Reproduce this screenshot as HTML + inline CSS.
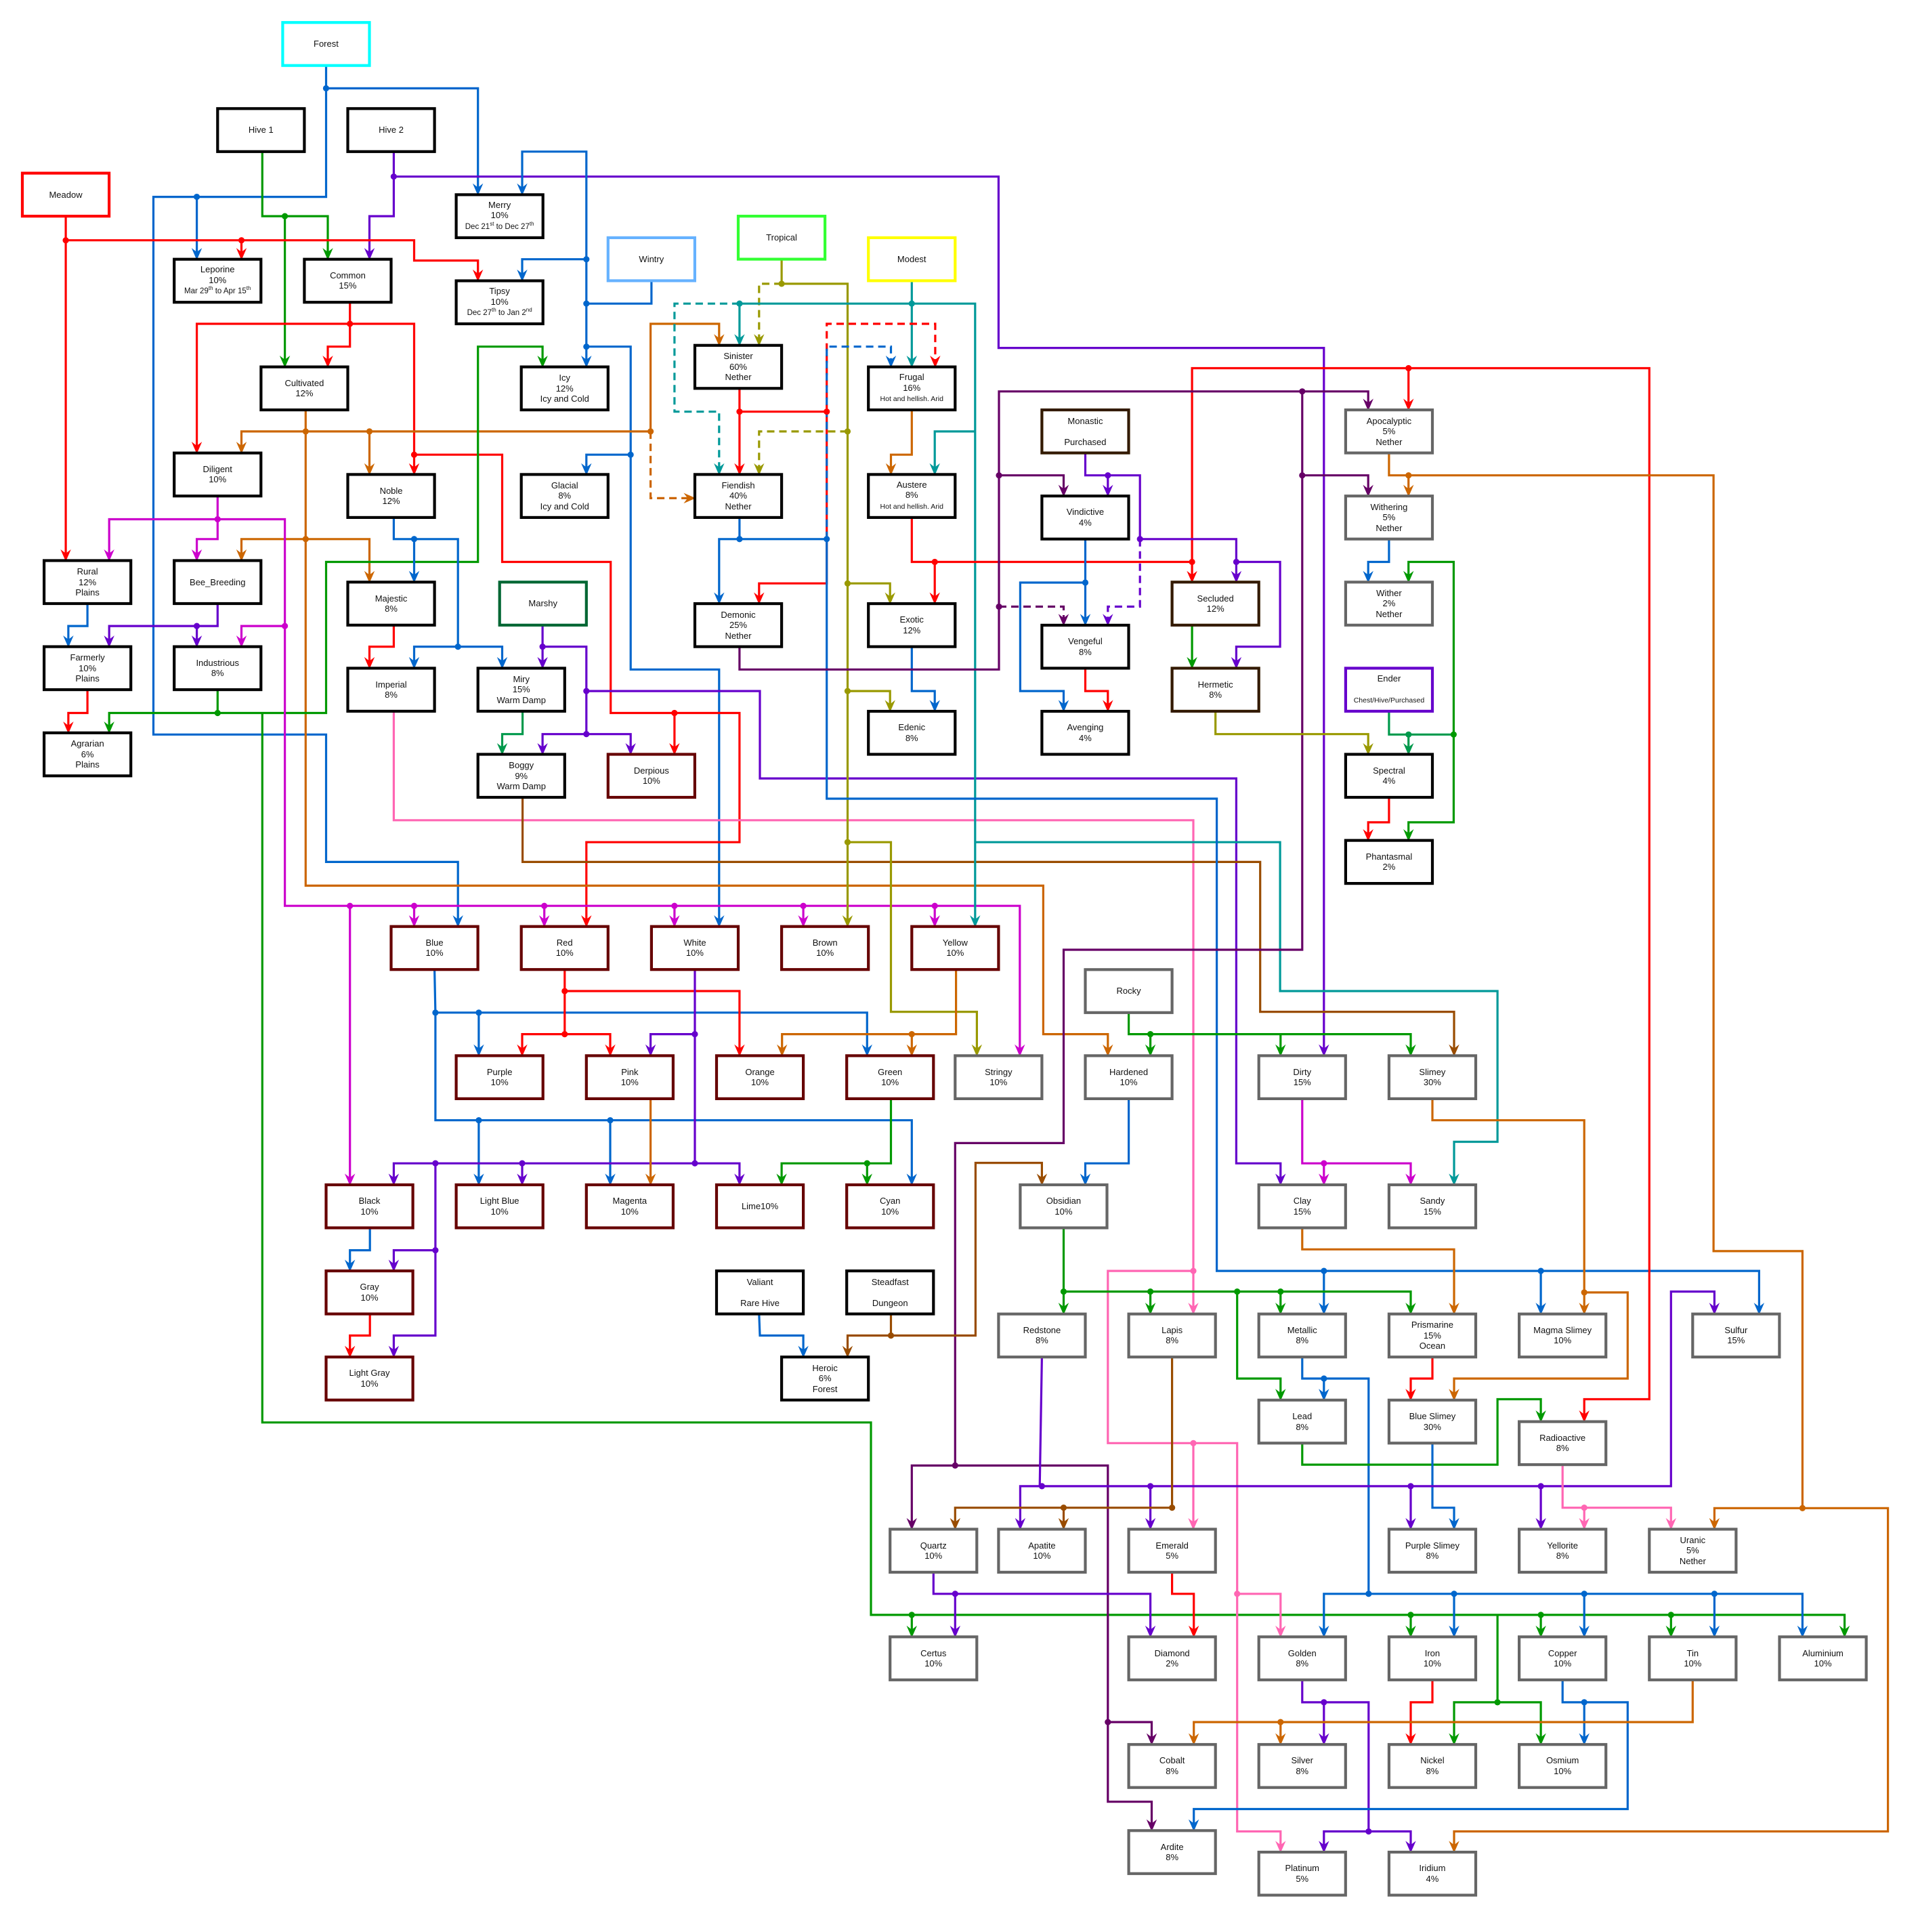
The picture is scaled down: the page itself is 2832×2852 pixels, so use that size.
<!DOCTYPE html>
<html><head><meta charset="utf-8">
<style>
html,body{margin:0;padding:0;background:#fff;}
#wrap{position:relative;width:2832px;height:2852px;overflow:hidden;background:#fff;}
svg{position:absolute;left:0;top:0;}
.lb{position:absolute;display:flex;align-items:center;justify-content:center;text-align:center;font-family:"Liberation Sans",Arial,sans-serif;font-size:13px;line-height:15.5px;color:#111;}
.lb small{font-size:11.5px;}
.lb s{text-decoration:none;font-size:10.5px;}
.lb sup{font-size:8px;line-height:0;vertical-align:5px;}
</style></head><body>
<div id="wrap">
<svg id="sv" width="2832" height="2852" viewBox="0 0 2832 2852" xmlns="http://www.w3.org/2000/svg"></svg>
<div id="lbls"></div>
</div>
<script>
var U=64.06,V=63.55,OX=1,OY=1.4;
function X(k){return OX+U*k;} function Y(k){return OY+V*k;}
var B='#0066cc',R='#ff0000',G='#009900',P='#6600cc',O='#cc6600',M='#cc00cc',T='#009999',OL='#999900',DP='#660066',PK='#ff66b3',BR='#994c00',DG='#00994c';
var K='#000000',DR='#660000',GR='#666666',DB='#331a00';
var out=[],dots=[];
function e(c,pts,opt){opt=opt||'';var arrow=opt.indexOf('n')<0,dash=opt.indexOf('d')>=0;
 var p=pts.map(function(q){return [X(q[0]),Y(q[1])];});
 var s='';
 if(arrow){var a=p[p.length-1],b=p[p.length-2];var dx=a[0]-b[0],dy=a[1]-b[1],L=Math.hypot(dx,dy);var ux=dx/L,uy=dy/L;
  var AL=15,AW=6.5,N=10;
  var nx=a[0]-ux*N,ny=a[1]-uy*N;
  var bx=a[0]-ux*AL,by=a[1]-uy*AL;
  s+='<polygon points="'+a[0]+','+a[1]+' '+(bx-uy*AW)+','+(by+ux*AW)+' '+nx+','+ny+' '+(bx+uy*AW)+','+(by-ux*AW)+'" fill="'+c+'" stroke="'+c+'" stroke-width="1" stroke-linejoin="miter"/>';
  p[p.length-1]=[nx,ny];}
 out.push('<polyline points="'+p.map(function(q){return q[0].toFixed(1)+','+q[1].toFixed(1);}).join(' ')+'" fill="none" stroke="'+c+'" stroke-width="3.2" stroke-linejoin="miter"'+(dash?' stroke-dasharray="11 7"':'')+'/>'+s);
}
function d(c,list){list.forEach(function(q){dots.push('<circle cx="'+X(q[0])+'" cy="'+Y(q[1])+'" r="4.6" fill="'+c+'"/>');});}
function arr(c,xs,y1,y2){xs.forEach(function(x){e(c,[[x,y1],[x,y2]]);});}

// Forest
e(B,[[7.5,1.5],[7.5,2.03],[11,2.03],[11,4.5]]);
e(B,[[7.5,2.03],[7.5,4.55],[3.52,4.55],[3.52,17.04],[7.5,17.04],[7.5,20.0],[10.54,20.0],[10.54,21.5]]);
e(B,[[4.52,4.55],[4.52,6]]);d(B,[[7.5,2.03],[4.52,4.55]]);
// Hive1
e(G,[[6.03,3.5],[6.03,5.0],[7.54,5.0],[7.54,6]]);e(G,[[6.55,5.0],[6.55,8.5]]);d(G,[[6.55,5.0]]);
// Hive2
e(P,[[9.06,3.5],[9.06,5.0],[8.5,5.0],[8.5,6]]);
e(P,[[9.06,4.08],[23.0,4.08],[23.0,8.06],[30.5,8.06],[30.5,24.5]]);d(P,[[9.06,4.08]]);
// Wintry / blue
e(B,[[15,6.5],[15,7.03],[13.5,7.03]],'n');
e(B,[[13.5,7.03],[13.5,3.5],[12.02,3.5],[12.02,4.5]]);
e(B,[[13.5,7.03],[13.5,8.5]]);
e(B,[[13.5,6.0],[12.02,6.0],[12.02,6.5]]);
e(B,[[13.5,8.03],[14.52,8.03],[14.52,15.53],[16.56,15.53],[16.56,21.5]]);
e(B,[[14.52,10.54],[13.5,10.54],[13.5,11]]);
d(B,[[13.5,6.0],[13.5,7.03],[13.5,8.03],[14.52,10.54]]);
// Meadow
e(R,[[1.5,5],[1.5,13]]);
e(R,[[1.5,5.56],[9.53,5.56],[9.53,6.03],[11.0,6.03],[11.0,6.5]]);
e(R,[[5.55,5.56],[5.55,6]]);d(R,[[1.5,5.56],[5.55,5.56]]);
// Common red
e(R,[[8.05,7],[8.05,7.5],[4.52,7.5],[4.52,10.5]]);
e(R,[[8.05,7.5],[9.53,7.5],[9.53,11]]);
e(R,[[8.05,7.5],[8.05,8.03],[7.54,8.03],[7.54,8.5]]);
e(R,[[9.53,10.54],[11.56,10.54],[11.56,13.03],[14.06,13.03],[14.06,16.54],[17.03,16.54],[17.03,19.54],[13.5,19.54],[13.5,21.5]]);
e(R,[[15.53,16.54],[15.53,17.5]]);d(R,[[8.05,7.5],[9.53,10.54],[15.53,16.54]]);
// Cultivated orange
e(O,[[7.03,9.5],[7.03,10.0],[5.55,10.0],[5.55,10.5]]);
e(O,[[7.03,10.0],[14.98,10.0],[14.98,7.5],[16.56,7.5],[16.56,8]]);
e(O,[[8.5,10.0],[8.5,11]]);
e(O,[[14.98,10.0],[14.98,11.55],[16,11.55]],'d');
e(O,[[7.03,10.0],[7.03,12.5],[5.55,12.5],[5.55,13]]);
e(O,[[7.03,12.5],[8.5,12.5],[8.5,13.5]]);
e(O,[[7.03,12.5],[7.03,20.55],[24.03,20.55],[24.03,24.0],[25.52,24.0],[25.52,24.5]]);
d(O,[[7.03,10.0],[8.5,10.0],[14.98,10.0],[7.03,12.5]]);
// Green network
e(G,[[5.0,16],[5.0,16.54],[2.5,16.54],[2.5,17]]);
e(G,[[5.0,16.54],[7.5,16.54],[7.5,13.03],[11.0,13.03],[11.0,8.03],[12.49,8.03],[12.49,8.5]]);
e(G,[[6.03,16.54],[6.03,33.02],[20.06,33.02],[20.06,37.49],[42.5,37.49],[42.5,38]]);
arr(G,[21.0,32.5,35.5,38.5],37.49,38);
e(G,[[34.5,37.49],[34.5,39.52],[33.5,39.52],[33.5,40.5]]);e(G,[[34.5,39.52],[35.5,39.52],[35.5,40.5]]);
d(G,[[5.0,16.54],[21,37.49],[32.5,37.49],[35.5,37.49],[38.5,37.49],[34.5,39.52]]);
// Diligent magenta
e(M,[[5.0,11.5],[5.0,12.04],[2.5,12.04],[2.5,13]]);
e(M,[[5.0,12.04],[5.0,12.5],[4.52,12.5],[4.52,13]]);
e(M,[[5.0,12.04],[6.55,12.04],[6.55,21.02],[23.49,21.02],[23.49,24.5]]);
e(M,[[6.55,14.52],[5.55,14.52],[5.55,15]]);
e(M,[[8.05,21.02],[8.05,27.5]]);
arr(M,[9.53,12.53,15.53,18.5,21.53],21.02,21.5);
d(M,[[5,12.04],[6.55,14.52],[8.05,21.02],[9.53,21.02],[12.53,21.02],[15.53,21.02],[18.5,21.02],[21.53,21.02]]);
// Bee purple, Rural, Farmerly
e(P,[[5.0,14],[5.0,14.52],[2.5,14.52],[2.5,15]]);e(P,[[4.52,14.52],[4.52,15]]);d(P,[[4.52,14.52]]);
e(B,[[2.0,14],[2.0,14.52],[1.56,14.52],[1.56,15]]);
e(R,[[2.0,16],[2.0,16.54],[1.56,16.54],[1.56,17]]);
// Noble
e(B,[[9.06,12],[9.06,12.5],[10.54,12.5],[10.54,15.0],[11.56,15.0],[11.56,15.5]]);
e(B,[[9.53,12.5],[9.53,13.5]]);e(B,[[10.54,15.0],[9.53,15.0],[9.53,15.5]]);d(B,[[9.53,12.5],[10.54,15.0]]);
e(R,[[9.06,14.5],[9.06,15.0],[8.5,15.0],[8.5,15.5]]);
// Marshy
e(P,[[12.49,14.5],[12.49,15.5]]);
e(P,[[12.49,15.0],[13.5,15.0],[13.5,17.03],[12.49,17.03],[12.49,17.5]]);
e(P,[[13.5,17.03],[14.52,17.03],[14.52,17.5]]);
e(P,[[13.5,16.03],[17.5,16.03],[17.5,18.06],[28.48,18.06],[28.48,27.0],[29.5,27.0],[29.5,27.5]]);
d(P,[[12.49,15.0],[13.5,17.03],[13.5,16.03]]);
e(DG,[[12.03,16.5],[12.03,17.03],[11.56,17.03],[11.56,17.5]]);
// Imperial pink
e(PK,[[9.06,16.5],[9.06,19.03],[27.49,19.03],[27.49,30.5]]);
e(PK,[[27.49,29.5],[25.52,29.5],[25.52,33.5],[28.5,33.5],[28.5,42.52],[29.5,42.52],[29.5,43]]);
e(PK,[[27.49,33.5],[27.49,35.5]]);e(PK,[[28.5,37.0],[29.5,37.0],[29.5,38]]);
d(PK,[[27.49,29.5],[27.49,33.5],[28.5,37.0]]);
// Boggy
e(BR,[[12.03,18.5],[12.03,20.0],[29.03,20.0],[29.03,23.48],[33.5,23.48],[33.5,24.5]]);
// Tropical
e(OL,[[18,6],[18,6.57],[19.52,6.57],[19.52,21.5]]);
e(OL,[[18,6.57],[17.48,6.57],[17.48,8]],'d');
e(OL,[[19.52,10.0],[17.48,10.0],[17.48,11]],'d');
e(OL,[[19.52,13.53],[20.5,13.53],[20.5,14]]);
e(OL,[[19.52,16.03],[20.5,16.03],[20.5,16.5]]);
e(OL,[[19.52,19.54],[20.52,19.54],[20.52,23.48],[22.5,23.48],[22.5,24.5]]);
d(OL,[[18,6.57],[19.52,10],[19.52,13.53],[19.52,16.03],[19.52,19.54]]);
// Modest teal
e(T,[[21,6.5],[21,8.5]]);
e(T,[[21,7.03],[17.03,7.03],[17.03,8]]);
e(T,[[17.03,7.03],[15.53,7.03],[15.53,9.54],[16.56,9.54],[16.56,11]],'d');
e(T,[[21,7.03],[22.46,7.03],[22.46,21.5]]);
e(T,[[22.46,10.0],[21.53,10.0],[21.53,11]]);
e(T,[[22.46,19.54],[29.49,19.54],[29.49,23.0],[34.5,23.0],[34.5,26.5],[33.5,26.5],[33.5,27.5]]);
d(T,[[21,7.03],[17.03,7.03]]);
// Sinister red
e(R,[[17.03,9],[17.03,11]]);
e(R,[[17.03,9.54],[19.04,9.54],[19.04,13.53],[17.48,13.53],[17.48,14]]);
e(R,[[19.04,9.54],[19.04,7.5],[21.54,7.5],[21.54,8.5]],'d');
d(R,[[17.03,9.54],[19.04,9.54]]);
// Fiendish blue
e(B,[[17.03,12],[17.03,12.5],[16.56,12.5],[16.56,14]]);
e(B,[[17.03,12.5],[19.04,12.5],[19.04,18.53],[28.03,18.53],[28.03,29.5],[40.53,29.5],[40.53,30.5]]);
e(B,[[19.04,12.5],[19.04,8.03],[20.52,8.03],[20.52,8.5]],'d');
arr(B,[30.5,35.5],29.5,30.5);
d(B,[[17.03,12.5],[19.04,12.5],[30.5,29.5],[35.5,29.5]]);
// Frugal, Austere
e(O,[[21,9.5],[21,10.54],[20.52,10.54],[20.52,11]]);
e(R,[[21,12],[21,13.03],[27.46,13.03],[27.46,13.5]]);
e(R,[[21.53,13.03],[21.53,14]]);
e(R,[[27.46,13.03],[27.46,8.53],[38.0,8.53],[38.0,32.48],[36.5,32.48],[36.5,33]]);
e(R,[[32.45,8.53],[32.45,9.5]]);
d(R,[[21.53,13.03],[27.46,13.03],[32.45,8.53]]);
e(B,[[21,15],[21,16.03],[21.53,16.03],[21.53,16.5]]);
// Demonic dark purple
e(DP,[[17.03,15],[17.03,15.53],[23.01,15.53],[23.01,9.07],[31.52,9.07],[31.52,9.5]]);
e(DP,[[23.01,11.02],[24.5,11.02],[24.5,11.5]]);
e(DP,[[23.01,14.07],[24.5,14.07],[24.5,14.5]],'d');
e(DP,[[30.0,9.07],[30.0,22.04],[24.5,22.04],[24.5,26.53],[22.0,26.53],[22.0,34.02],[21.0,34.02],[21.0,35.5]]);
e(DP,[[30.0,11.02],[31.52,11.02],[31.52,11.5]]);
e(DP,[[22.0,34.02],[25.52,34.02],[25.52,41.83],[26.53,41.83],[26.53,42.5]]);
e(DP,[[25.52,39.98],[26.53,39.98],[26.53,40.5]]);
d(DP,[[23.01,11.02],[23.01,14.07],[30.0,9.07],[30.0,11.02],[22.0,34.02],[25.52,39.98]]);
// Monastic
e(P,[[25,10.5],[25,11.02],[25.52,11.02],[25.52,11.5]]);
e(P,[[25.52,11.02],[26.26,11.02],[26.26,12.5],[28.48,12.5],[28.48,13.5]]);
e(P,[[26.26,12.5],[26.26,14.07],[25.52,14.07],[25.52,14.5]],'d');
e(P,[[28.48,13.03],[29.49,13.03],[29.49,15.0],[28.48,15.0],[28.48,15.5]]);
d(P,[[25.52,11.02],[26.26,12.5],[28.48,13.03]]);
// Vindictive, Vengeful, Secluded, Hermetic
e(B,[[25,12.5],[25,14.5]]);
e(B,[[25,13.51],[23.5,13.51],[23.5,16.03],[24.5,16.03],[24.5,16.5]]);d(B,[[25,13.51]]);
e(R,[[25,15.5],[25,16.03],[25.52,16.03],[25.52,16.5]]);
e(G,[[27.46,14.5],[27.46,15.5]]);
e(OL,[[28,16.5],[28,17.03],[31.52,17.03],[31.52,17.5]]);
// Apocalyptic
e(O,[[32,10.5],[32,11.02],[39.48,11.02],[39.48,29.04],[41.53,29.04],[41.53,35.01],[43.5,35.01],[43.5,42.52],[33.5,42.52],[33.5,43]]);
e(O,[[32.45,11.02],[32.45,11.5]]);
e(O,[[41.53,35.01],[39.5,35.01],[39.5,35.5]]);
d(O,[[32.45,11.02],[41.53,35.01]]);
e(B,[[32,12.5],[32,13.03],[31.52,13.03],[31.52,13.5]]);
e(G,[[33.49,17.04],[33.49,13.03],[32.45,13.03],[32.45,13.5]]);
e(G,[[33.49,17.04],[33.49,19.08],[32.45,19.08],[32.45,19.5]]);d(G,[[33.49,17.04]]);
e(DG,[[32,16.5],[32,17.04],[33.49,17.04]],'n');e(DG,[[32.45,17.04],[32.45,17.5]]);d(DG,[[32.45,17.04]]);
e(R,[[32,18.5],[32,19.08],[31.52,19.08],[31.52,19.5]]);
// Lower left
e(B,[[10.0,22.5],[10.02,23.5],[19.97,23.5],[19.97,24.5]]);
e(B,[[11.02,23.5],[11.02,24.5]]);
e(B,[[10.02,23.5],[10.02,26.0],[21.0,26.0],[21.0,27.5]]);
arr(B,[11.02,14.05],26.0,27.5);
d(B,[[10.02,23.5],[11.02,23.5],[11.02,26],[14.05,26]]);
e(R,[[13,22.5],[13,23.0],[17.03,23.0],[17.03,24.5]]);
e(R,[[13,23.0],[13,24.0],[12.02,24.0],[12.02,24.5]]);
e(R,[[13,24.0],[14.05,24.0],[14.05,24.5]]);d(R,[[13,23],[13,24]]);
e(P,[[16,22.5],[16,24.0],[14.98,24.0],[14.98,24.5]]);
e(P,[[16,24.0],[16,27.0],[17.03,27.0],[17.03,27.5]]);
e(P,[[16,27.0],[9.06,27.0],[9.06,27.5]]);
e(P,[[12.02,27.0],[12.02,27.5]]);
e(P,[[10.02,27.0],[10.02,29.02],[9.06,29.02],[9.06,29.5]]);
e(P,[[10.02,29.02],[10.02,31.0],[9.06,31.0],[9.06,31.5]]);
d(P,[[16,24],[16,27],[10.02,27],[12.02,27],[10.02,29.02]]);
e(O,[[14.98,25.5],[14.98,27.5]]);
e(O,[[22.02,22.5],[22.02,24.0],[18.01,24.0],[18.01,24.5]]);e(O,[[21.0,24.0],[21.0,24.5]]);d(O,[[21,24]]);
e(G,[[20.52,25.5],[20.52,27.0],[18.0,27.0],[18.0,27.5]]);e(G,[[19.97,27.0],[19.97,27.5]]);d(G,[[19.97,27]]);
e(B,[[8.51,28.5],[8.51,29.02],[8.05,29.02],[8.05,29.5]]);
e(R,[[8.51,30.5],[8.51,31.0],[8.05,31.0],[8.05,31.5]]);
e(B,[[17.48,30.5],[17.5,31.0],[18.5,31.0],[18.5,31.5]]);
e(BR,[[20.52,30.5],[20.52,31.0],[19.52,31.0],[19.52,31.5]]);
e(BR,[[20.52,31.0],[22.47,31.0],[22.47,26.99],[24.0,26.99],[24.0,27.5]]);d(BR,[[20.52,31]]);
// Lower right
e(G,[[26,23.5],[26,24.0],[32.5,24.0],[32.5,24.5]]);arr(G,[26.5,29.5],24.0,24.5);d(G,[[26.5,24]]);
e(B,[[26,25.5],[26,27.0],[25.0,27.0],[25.0,27.5]]);
e(M,[[30,25.5],[30,27.0],[32.5,27.0],[32.5,27.5]]);e(M,[[30.5,27],[30.5,27.5]]);d(M,[[30.5,27]]);
e(O,[[33,25.5],[33,26.0],[36.5,26.0],[36.5,30.5]]);
e(O,[[36.5,30.0],[37.5,30.0],[37.5,32.0],[33.5,32.0],[33.5,32.5]]);d(O,[[36.5,30]]);
e(O,[[30,28.5],[30,29.0],[33.5,29.0],[33.5,30.5]]);
e(G,[[24.5,28.5],[24.5,30.5]]);
e(G,[[24.5,29.98],[32.5,29.98],[32.5,30.5]]);
arr(G,[26.5,29.5],29.98,30.5);
e(G,[[28.5,29.98],[28.5,32.0],[29.5,32.0],[29.5,32.5]]);
d(G,[[24.5,29.98],[26.5,29.98],[28.5,29.98],[29.5,29.98]]);
e(B,[[30,31.5],[30,32.0],[31.53,32.0],[31.53,37.0],[30.5,37.0],[30.5,38]]);
e(B,[[30.5,32.0],[30.5,32.5]]);
e(B,[[31.53,37.0],[41.53,37.0],[41.53,38]]);
arr(B,[33.5,36.5,39.5],37.0,38);
d(B,[[30.5,32],[31.53,37],[33.5,37],[36.5,37],[39.5,37]]);
e(R,[[33,31.5],[33,32.0],[32.5,32.0],[32.5,32.5]]);
e(G,[[30,33.5],[30,34.0],[34.5,34.0],[34.5,32.48],[35.5,32.48],[35.5,33]]);
e(B,[[33,33.5],[33,35.0],[33.5,35.0],[33.5,35.5]]);
e(P,[[24.0,31.5],[23.95,34.5]],'n');
e(P,[[24,34.5],[23.5,34.5],[23.5,35.5]]);
e(P,[[24,34.5],[38.5,34.5],[38.5,29.98],[39.5,29.98],[39.5,30.5]]);
arr(P,[26.5,32.5,35.5],34.5,35.5);
d(P,[[24,34.5],[26.5,34.5],[32.5,34.5],[35.5,34.5]]);
e(BR,[[27,31.5],[27,35.0],[22.0,35.0],[22.0,35.5]]);e(BR,[[24.5,35.0],[24.5,35.5]]);d(BR,[[27,35],[24.5,35]]);
e(PK,[[36,34],[36,35.0],[38.5,35.0],[38.5,35.5]]);e(PK,[[36.5,35],[36.5,35.5]]);d(PK,[[36.5,35]]);
e(P,[[21.5,36.5],[21.5,37.0],[26.5,37.0],[26.5,38]]);e(P,[[22,37],[22,38]]);d(P,[[22,37]]);
e(R,[[27,36.5],[27,37.0],[27.5,37.0],[27.5,38]]);
e(P,[[30,39],[30,39.52],[31.53,39.52],[31.53,42.52],[32.5,42.52],[32.5,43]]);
e(P,[[30.5,39.52],[30.5,40.5]]);e(P,[[31.53,42.52],[30.5,42.52],[30.5,43]]);d(P,[[30.5,39.52],[31.53,42.52]]);
e(R,[[33,39],[33,39.52],[32.5,39.52],[32.5,40.5]]);
e(B,[[36,39],[36,39.52],[37.5,39.52],[37.5,42.0],[27.5,42.0],[27.5,42.5]]);e(B,[[36.5,39.52],[36.5,40.5]]);d(B,[[36.5,39.52]]);
e(O,[[39,39],[39,39.98],[27.5,39.98],[27.5,40.5]]);e(O,[[29.5,39.98],[29.5,40.5]]);d(O,[[29.5,39.98]]);

var nodes=[
['Forest',6.5,0.5,'#00ffff'],['Hive 1',5,2.5,K],['Hive 2',8,2.5,K],['Meadow',0.5,4,'#ff0000'],
['Merry<br>10%<br><small>Dec 21<sup>st</sup> to Dec 27<sup>th</sup></small>',10.5,4.5,K],
['Leporine<br>10%<br><small>Mar 29<sup>th</sup> to Apr 15<sup>th</sup></small>',4,6,K],
['Common<br>15%',7,6,K],
['Tipsy<br>10%<br><small>Dec 27<sup>th</sup> to Jan 2<sup>nd</sup></small>',10.5,6.5,K],
['Wintry',14,5.5,'#66b2ff'],['Tropical',17,5,'#33ff33'],['Modest',20,5.5,'#ffff00'],
['Sinister<br>60%<br>Nether',16,8,K],['Frugal<br>16%<br><s>Hot and hellish. Arid</s>',20,8.5,K],
['Cultivated<br>12%',6,8.5,K],['Icy<br>12%<br>Icy and Cold',12,8.5,K],
['Monastic<br><br>Purchased',24,9.5,DB],['Apocalyptic<br>5%<br>Nether',31,9.5,GR],
['Diligent<br>10%',4,10.5,K],['Noble<br>12%',8,11,K],['Glacial<br>8%<br>Icy and Cold',12,11,K],
['Fiendish<br>40%<br>Nether',16,11,K],['Austere<br>8%<br><s>Hot and hellish. Arid</s>',20,11,K],
['Vindictive<br>4%',24,11.5,K],['Withering<br>5%<br>Nether',31,11.5,GR],
['Rural<br>12%<br>Plains',1,13,K],['Bee_Breeding',4,13,K],['Majestic<br>8%',8,13.5,K],['Marshy',11.5,13.5,'#006633'],
['Secluded<br>12%',27,13.5,DB],['Wither<br>2%<br>Nether',31,13.5,GR],
['Demonic<br>25%<br>Nether',16,14,K],['Exotic<br>12%',20,14,K],['Vengeful<br>8%',24,14.5,K],
['Farmerly<br>10%<br>Plains',1,15,K],['Industrious<br>8%',4,15,K],['Imperial<br>8%',8,15.5,K],
['Miry<br>15%<br>Warm Damp',11,15.5,K],['Hermetic<br>8%',27,15.5,DB],
['Ender<br><br><s>Chest/Hive/Purchased</s>',31,15.5,'#6600cc'],
['Edenic<br>8%',20,16.5,K],['Avenging<br>4%',24,16.5,K],['Agrarian<br>6%<br>Plains',1,17,K],
['Boggy<br>9%<br>Warm Damp',11,17.5,K],['Derpious<br>10%',14,17.5,DR],['Spectral<br>4%',31,17.5,K],['Phantasmal<br>2%',31,19.5,K],
['Blue<br>10%',9,21.5,DR],['Red<br>10%',12,21.5,DR],['White<br>10%',15,21.5,DR],['Brown<br>10%',18,21.5,DR],['Yellow<br>10%',21,21.5,DR],
['Rocky',25,22.5,GR],
['Purple<br>10%',10.5,24.5,DR],['Pink<br>10%',13.5,24.5,DR],['Orange<br>10%',16.5,24.5,DR],['Green<br>10%',19.5,24.5,DR],
['Stringy<br>10%',22,24.5,GR],['Hardened<br>10%',25,24.5,GR],['Dirty<br>15%',29,24.5,GR],['Slimey<br>30%',32,24.5,GR],
['Black<br>10%',7.5,27.5,DR],['Light Blue<br>10%',10.5,27.5,DR],['Magenta<br>10%',13.5,27.5,DR],['Lime10%',16.5,27.5,DR],['Cyan<br>10%',19.5,27.5,DR],
['Obsidian<br>10%',23.5,27.5,GR],['Clay<br>15%',29,27.5,GR],['Sandy<br>15%',32,27.5,GR],
['Valiant<br><br>Rare Hive',16.5,29.5,K],['Steadfast<br><br>Dungeon',19.5,29.5,K],['Gray<br>10%',7.5,29.5,DR],
['Redstone<br>8%',23,30.5,GR],['Lapis<br>8%',26,30.5,GR],['Metallic<br>8%',29,30.5,GR],['Prismarine<br>15%<br>Ocean',32,30.5,GR],
['Magma Slimey<br>10%',35,30.5,GR],['Sulfur<br>15%',39,30.5,GR],
['Heroic<br>6%<br>Forest',18,31.5,K],['Light Gray<br>10%',7.5,31.5,DR],
['Lead<br>8%',29,32.5,GR],['Blue Slimey<br>30%',32,32.5,GR],['Radioactive<br>8%',35,33,GR],
['Quartz<br>10%',20.5,35.5,GR],['Apatite<br>10%',23,35.5,GR],['Emerald<br>5%',26,35.5,GR],['Purple Slimey<br>8%',32,35.5,GR],
['Yellorite<br>8%',35,35.5,GR],['Uranic<br>5%<br>Nether',38,35.5,GR],
['Certus<br>10%',20.5,38,GR],['Diamond<br>2%',26,38,GR],['Golden<br>8%',29,38,GR],['Iron<br>10%',32,38,GR],
['Copper<br>10%',35,38,GR],['Tin<br>10%',38,38,GR],['Aluminium<br>10%',41,38,GR],
['Cobalt<br>8%',26,40.5,GR],['Silver<br>8%',29,40.5,GR],['Nickel<br>8%',32,40.5,GR],['Osmium<br>10%',35,40.5,GR],
['Ardite<br>8%',26,42.5,GR],['Platinum<br>5%',29,43,GR],['Iridium<br>4%',32,43,GR]
];
var rects=[],labels=[];
nodes.forEach(function(n){var x=X(n[1]),y=Y(n[2]),w=2*U,h=V;
 rects.push('<rect x="'+x.toFixed(1)+'" y="'+y.toFixed(1)+'" width="'+w.toFixed(1)+'" height="'+h.toFixed(1)+'" fill="#fff" stroke="'+n[3]+'" stroke-width="4.2"/>');
 labels.push('<div class="lb" style="left:'+x.toFixed(1)+'px;top:'+y.toFixed(1)+'px;width:'+w.toFixed(1)+'px;height:'+h.toFixed(1)+'px"><div>'+n[0]+'</div></div>');
});
document.getElementById('sv').innerHTML=out.join('')+dots.join('')+rects.join('');
document.getElementById('lbls').innerHTML=labels.join('');
</script>
</body></html>
